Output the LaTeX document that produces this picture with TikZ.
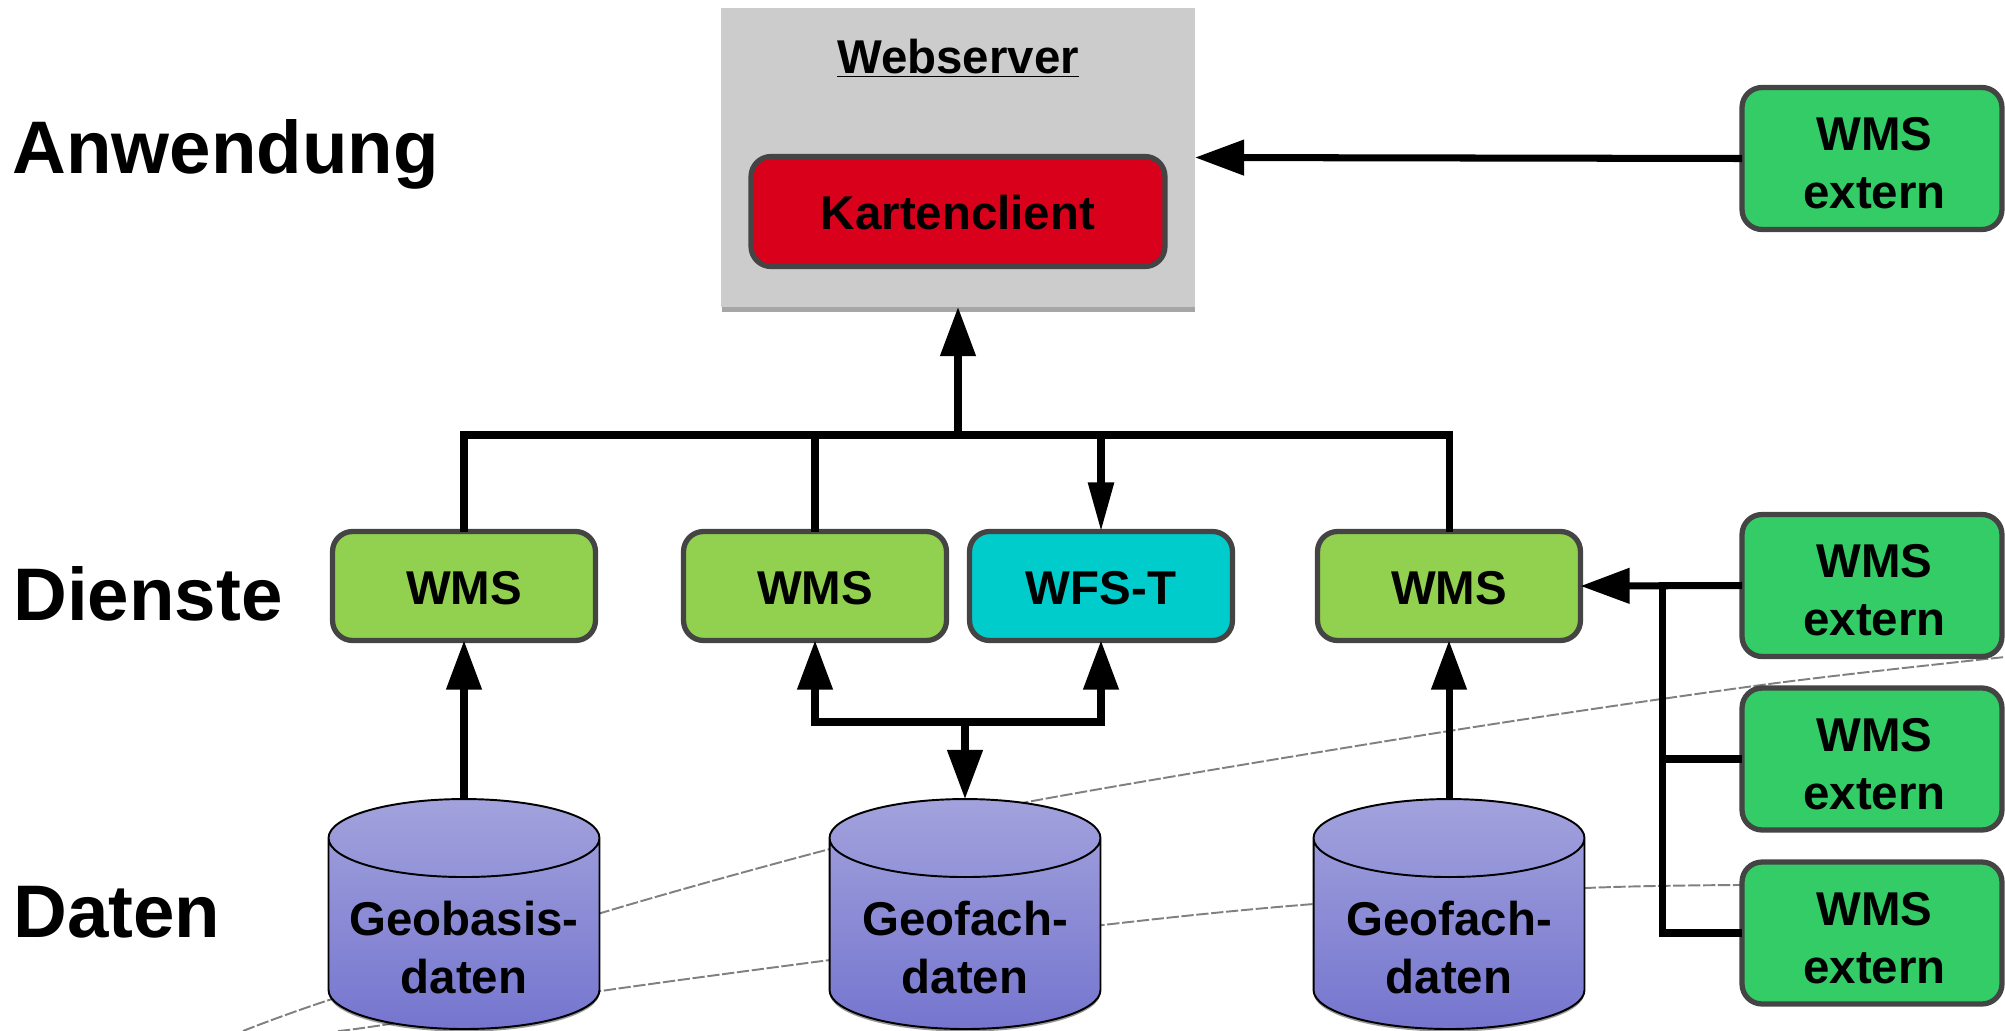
\documentclass[tikz,border=0pt]{standalone}
\usepackage{fontspec}
\setmainfont{Liberation Sans}
\usetikzlibrary{arrows.meta}
\usetikzlibrary{shapes.geometric}
\usetikzlibrary{shadows}
\definecolor{wmsgreen}{HTML}{92D050}
\definecolor{extgreen}{HTML}{33CC66}
\definecolor{wfscyan}{HTML}{00CCCC}
\definecolor{clientred}{HTML}{D9001B}
\definecolor{boxline}{HTML}{444444}
\definecolor{cyltop}{HTML}{A2A2DD}
\definecolor{cylbottom}{HTML}{7575CF}
\tikzset{
 layertext/.style={anchor=west, inner sep=0pt, font=\fontsize{42.4}{48}\bfseries\selectfont},
 boxtext/.style={align=center, font=\fontsize{27}{33}\bfseries\selectfont},
 dienstbox/.style={boxtext, text height=21pt, draw=boxline, line width=3pt, rounded corners=.4cm, outer sep=0pt, inner sep=0pt},
 wmsbox/.style={dienstbox, fill=wmsgreen, minimum width=5.26cm, minimum height=2.18cm},
 wfsbox/.style={wmsbox, fill=wfscyan},
 extbox/.style={dienstbox, fill=extgreen, minimum width=5.2cm, minimum height=2.84cm,
  label={[boxtext, xshift=1.4pt, yshift=-2.9pt]center:{WMS\\extern}}},
 clientbox/.style={dienstbox, fill=clientred, minimum width=8.28cm, minimum height=2.2cm},
 serverbox/.style={fill=black!20, minimum width=9.48cm, minimum height=5.98cm, outer sep=0pt, inner sep=0pt,
  drop shadow={shadow xshift=.3pt, shadow yshift=-2.8pt, fill=black, opacity=.35}},
 datacyl/.style={boxtext, shape=cylinder, shape border rotate=90, aspect=.34, draw=black, line width=1.1pt,
  top color=cyltop, bottom color=cylbottom, minimum width=5.42cm, minimum height=4.6cm,
  outer sep=0pt, inner sep=0pt, drop shadow={shadow xshift=0pt, shadow yshift=-1.5pt, fill=black, opacity=.4},
  label={[boxtext, yshift=-7.7pt]center:{#1}}},
 conn/.style={line width=4pt, black, line join=miter},
 bigtip/.style={conn, arrows={-{Triangle[length=28pt, width=19.5pt]}}},
 narrowtip/.style={conn, arrows={-{Triangle[length=28pt, width=14pt]}}},
 bothtip/.style={conn, arrows={{Triangle[length=28pt, width=19.5pt]}-{Triangle[length=28pt, width=19.5pt]}}},
 border/.style={gray, line width=1.1pt, dash pattern=on 7pt off 1.5pt},
}
\begin{document}
\begin{tikzpicture} [x=.02cm, y=-.02cm]
\useasboundingbox (0,0) rectangle (2005,1031);
% dashed lines behind everything
\draw[border] plot[smooth] coordinates {(243,1031) (329,1000) (601,913) (830,849) (1022,803) (1449,731) (1769,684) (2005,657)};
\draw[border] plot[smooth] coordinates {(338,1031) (383,1025) (601,991) (830,960) (1103,925) (1314,904) (1586,888) (1740,885)};
% layers
\node[layertext] (anwendung) at (12,154) {Anwendung};
\node[layertext] (dienste) at (13,594) {Dienste};
\node[layertext] (daten) at (13,912) {Daten};
% webserver
\node[serverbox] (server) at (958,157.5) {};
\node[boxtext] (servername) at (958,58) {\underline{Webserver}};
\node[clientbox] (client) at (958,211.5) {Kartenclient};
% dienste
\node[wmsbox] (wmsa) at (464,586) {WMS};
\node[wmsbox] (wmsb) at (815,586) {WMS};
\node[wfsbox] (wfs) at (1101,586) {WFS-T};
\node[wmsbox] (wmsc) at (1449,586) {WMS};
% externe dienste
\node[extbox] (exta) at (1872,158.5) {};
\node[extbox] (extb) at (1872,585.5) {};
\node[extbox] (extc) at (1872,759) {};
\node[extbox] (extd) at (1872,933) {};
% daten
\node[datacyl={Geobasis-\\daten}] (geobasis) at (464,934) {\phantom{Geobasis-}};
\node[datacyl={Geofach-\\daten}] (geofacha) at (965,934) {\phantom{Geobasis-}};
\node[datacyl={Geofach-\\daten}] (geofachb) at (1449,934) {\phantom{Geobasis-}};
% connectors
\coordinate (bus) at (958,435);
\coordinate (joint) at (965,722);
\coordinate (trunk) at (1662,585);
\draw[bigtip] (exta.west) -- (server.east);
\draw[conn] (wmsa.north) |- (bus) -| (wmsc.north);
\draw[conn] (wmsb.north) -- (wmsb.north |- bus);
\draw[bigtip] (bus) -- (server.south);
\draw[narrowtip] (wfs.north |- bus) -- (wfs.north);
\draw[bigtip] (geobasis.north) -- (wmsa.south);
\draw[bigtip] (geofachb.north) -- (wmsc.south);
\draw[bothtip] (wmsb.south) |- (joint) -| (wfs.south);
\draw[bigtip] (joint) -- (geofacha.north);
\draw[bigtip] (extb.west) -- (wmsc.east);
\draw[conn] (trunk) |- (extd.west);
\draw[conn] (trunk |- extc.west) -- (extc.west);
\end{tikzpicture}
\end{document}
